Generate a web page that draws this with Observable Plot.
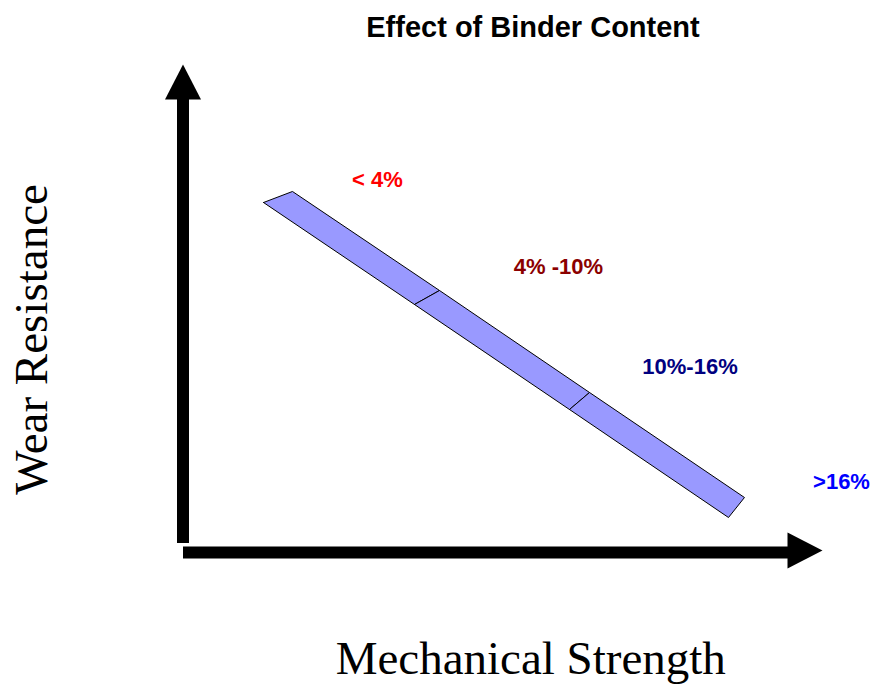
<!DOCTYPE html>
<html>
<head>
<meta charset="utf-8">
<script src="https://cdn.jsdelivr.net/npm/d3@7"></script>
<script src="https://cdn.jsdelivr.net/npm/@observablehq/plot@0.6"></script>
<style>
  html, body { margin: 0; padding: 0; background: #fff; }
  #title {
    width: 871px; height: 45px; box-sizing: border-box;
    padding-top: 13px; padding-left: 195px; text-align: center;
    font: bold 29px/29px "Liberation Sans", Arial, sans-serif; color: #000;
  }
</style>
</head>
<body>
<div id="title">Effect of Binder Content</div>
<div id="chart"></div>
<script>
// Schematic axes: 0..100 on both (Mechanical Strength → x, Wear Resistance → y)
const axisExtent = [0, 100];

// Band boundaries (binder-content classes) along the trade-off line
const bandClasses = ["< 4%", "4% -10%", "10%-16%"];
const lowerEdgeX = [12.59, 36.20, 60.44, 85.30];
const lowerEdgeY = [71.72, 50.82, 29.30, 7.17];
const upperEdgeX = [17.12, 40.11, 63.57, 87.80];
const upperEdgeY = [73.98, 53.69, 32.79, 11.27];

// Class labels
const labelText = ["< 4%", "4% -10%", "10%-16%", ">16%"];
const labelX = [30.41, 58.72, 79.28, 102.97];
const labelY = [75.0, 56.97, 36.68, 13.11];
const labelColor = ["#ff0000", "#8b0000", "#000080", "#0000ff"];

// Build closed polygons for each band segment
const bandPts = [];
bandClasses.forEach((c, i) => {
  const pts = [
    [lowerEdgeX[i], lowerEdgeY[i]],
    [lowerEdgeX[i + 1], lowerEdgeY[i + 1]],
    [upperEdgeX[i + 1], upperEdgeY[i + 1]],
    [upperEdgeX[i], upperEdgeY[i]],
    [lowerEdgeX[i], lowerEdgeY[i]]
  ];
  pts.forEach(([x, y]) => bandPts.push({cls: c, x, y}));
});

const labels = labelText.map((t, i) => ({t, x: labelX[i], y: labelY[i], c: labelColor[i]}));

// Filled arrow-head symbol with its tip at the origin
const headSymbol = {
  draw(context) {
    context.moveTo(0, 0);
    context.lineTo(18, 35);
    context.lineTo(-18, 35);
    context.closePath();
  }
};

const serif = "'Liberation Serif', 'Times New Roman', serif";
const sans = "'Liberation Sans', Arial, sans-serif";

const chart = Plot.plot({
  width: 871,
  height: 645,
  marginLeft: 182.5,
  marginRight: 49,
  marginTop: 19,
  marginBottom: 138,
  x: {domain: axisExtent, axis: null},
  y: {domain: axisExtent, axis: null},
  style: {fontFamily: sans, background: "#fff", overflow: "visible"},
  marks: [
    // vertical axis arrow
    Plot.ruleX([axisExtent[0]], {y1: axisExtent[1], y2: axisExtent[0], stroke: "#000", strokeWidth: 12, insetTop: 30, insetBottom: 9}),
    Plot.dot([{x: axisExtent[0], y: axisExtent[1]}], {x: "x", y: "y", symbol: headSymbol, fill: "#000", stroke: "none", r: 10}),
    // horizontal axis arrow
    Plot.ruleY([axisExtent[0]], {x1: axisExtent[0], x2: axisExtent[1], stroke: "#000", strokeWidth: 12, insetLeft: 0.5, insetRight: 30}),
    Plot.dot([{x: axisExtent[1], y: axisExtent[0]}], {x: "x", y: "y", symbol: headSymbol, fill: "#000", stroke: "none", r: 10, rotate: 90, dy: -2}),
    // band
    Plot.line(bandPts, {x: "x", y: "y", z: "cls", fill: "#9999ff", stroke: "#000", strokeWidth: 1, curve: "linear", strokeLinejoin: "miter"}),
    // class labels
    Plot.text(labels, {x: "x", y: "y", text: "t", fill: "c", fontSize: 22, fontWeight: "bold", fontFamily: sans, lineAnchor: "bottom", textAnchor: "middle"}),
    // axis titles
    Plot.text(["Mechanical Strength"], {frameAnchor: "bottom", text: d => d, fontSize: 47, fontFamily: serif, lineAnchor: "bottom", textAnchor: "middle", dx: 28, dy: 121, fill: "#000"}),
    Plot.text(["Wear Resistance"], {frameAnchor: "left", text: d => d, fontSize: 47, fontFamily: serif, lineAnchor: "bottom", textAnchor: "middle", rotate: -90, dx: -136.5, dy: 31, fill: "#000"})
  ]
});
document.getElementById("chart").appendChild(chart);
</script>
</body>
</html>
